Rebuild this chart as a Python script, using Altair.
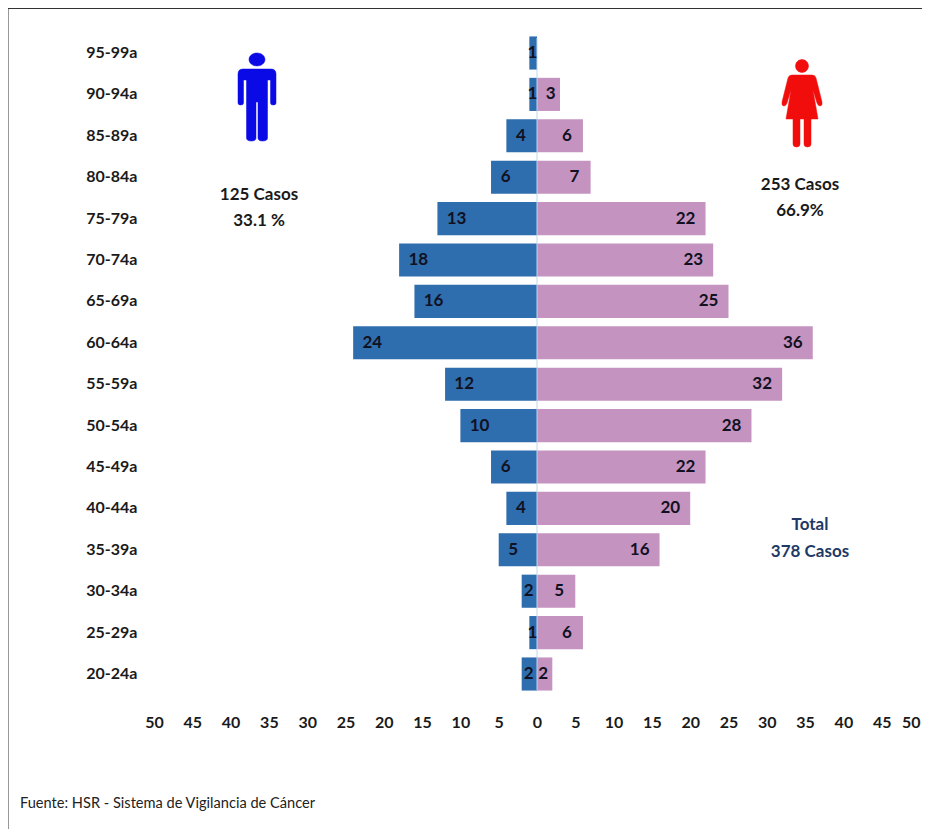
import altair as alt
import pandas as pd

ages = ["95-99a","90-94a","85-89a","80-84a","75-79a","70-74a","65-69a","60-64a",
        "55-59a","50-54a","45-49a","40-44a","35-39a","30-34a","25-29a","20-24a"]
male = [1,1,4,6,13,18,16,24,12,10,6,4,5,2,1,2]
female = [0,3,6,7,22,23,25,36,32,28,22,20,16,5,6,2]
ticks = [-50,-45,-40,-35,-30,-25,-20,-15,-10,-5,0,5,10,15,20,25,30,35,40,45,50]

BLUE = "#2E6DAE"
PINK = "#C493C0"
FONT = "Lato"
TXT = "#1a1a1a"
NAVY = "#1F3A66"

MAN = ("M-8,-37.5 A8,6.5 0 1 1 8,-37.5 A8,6.5 0 1 1 -8,-37.5 Z "
       "M-14,-28 L14,-28 Q19,-28 19,-23 L19,6 Q19,8 16,8 Q13.5,8 13.5,6 L13.5,-17 L10.5,-17 L10.5,41 "
       "Q10.5,44 5.5,44 Q1,44 1,41 L1,5 L-1,5 L-1,41 Q-1,44 -5.5,44 Q-10.5,44 -10.5,41 L-10.5,-17 L-13.5,-17 "
       "L-13.5,6 Q-13.5,8 -16,8 Q-19,8 -19,6 L-19,-23 Q-19,-28 -14,-28 Z")
WOMAN = ("M-6.5,-37 A6.5,6.5 0 1 1 6.5,-37 A6.5,6.5 0 1 1 -6.5,-37 Z "
         "M-10,-28 L10,-28 Q13,-28 14,-25 L20,-1 Q20.5,3 18,3 Q16,3 15,0 L11,-13 L16,16 L9,16 "
         "L9,41 Q9,44 5.5,44 Q2,44 2,41 L2,16 L-2,16 L-2,41 Q-2,44 -5.5,44 Q-9,44 -9,41 L-9,16 "
         "L-16,16 L-11,-13 L-15,0 Q-16,3 -18,3 Q-20.5,3 -20,-1 L-14,-25 Q-13,-28 -10,-28 Z")

def male_pos(v):
    return -v + (2.5 if v >= 10 else 1.9 if v >= 4 else 0.9 if v == 2 else 0.4)

def female_pos(v):
    return v - (2.6 if v >= 10 else 2.1 if v >= 5 else 1.2)

rows = []
for a, m, f in zip(ages, male, female):
    rows.append(dict(age=a, side="m", val=-m, lab=male_pos(m), txt=str(m)))
    if f:
        rows.append(dict(age=a, side="f", val=f, lab=female_pos(f), txt=str(f)))
df = pd.DataFrame(rows)

W, H = 914, 821
X0 = 529.0
PX = 7.66
xscale = alt.Scale(domain=[-X0 / PX, (W - X0) / PX], range=[0, W], nice=False, zero=False)
yscale = alt.Scale(domain=ages, range=[24.3, 686.7], paddingInner=0.2, paddingOuter=0.1)

xenc = alt.X("val:Q", scale=xscale, title=None,
             axis=alt.Axis(values=ticks, labelExpr="abs(datum.value)", grid=False, domain=False,
                           ticks=False, offset=-115, labelPadding=0, labelFont=FONT, labelFontSize=16,
                           labelFontWeight="bold", labelColor=TXT, labelOverlap=False,
                           labelFlush=False, labelBound=False,
                           labelAlign=alt.ExprRef("datum.value == 50 ? 'right' : 'center'")))
yenc = alt.Y("age:N", scale=yscale, sort=ages, title=None,
             axis=alt.Axis(orient="left", domain=False, ticks=False, offset=-129, labelPadding=0,
                           labelFont=FONT, labelFontSize=16, labelFontWeight="bold", labelColor=TXT,
                           labelOverlap=False))

bars = alt.Chart(df).mark_bar(clip=False).encode(
    x=xenc, x2=alt.datum(0), y=yenc,
    color=alt.Color("side:N", scale=alt.Scale(domain=["m", "f"], range=[BLUE, PINK]), legend=None),
)
labels = alt.Chart(df).mark_text(font=FONT, fontSize=17, fontWeight="bold", color="#111122",
                                 align="center", baseline="middle").encode(
    x=alt.X("lab:Q", scale=xscale), y=alt.Y("age:N", scale=yscale, sort=ages), text="txt:N")

zero = alt.Chart(pd.DataFrame({"v": [0]})).mark_rule(color="#BFD7EA", strokeWidth=1).encode(
    x=alt.X("v:Q", scale=xscale), y=alt.value(30), y2=alt.value(682))

def icon(path, colour, px, py):
    return alt.Chart(pd.DataFrame({"v": [0]})).mark_point(
        shape=path, size=4, filled=True, fill=colour, stroke=colour, strokeWidth=0.5,
        strokeJoin="round", opacity=1).encode(x=alt.value(px), y=alt.value(py))

def note(text, px, py, colour=TXT, size=17, weight="bold", align="center"):
    return alt.Chart(pd.DataFrame({"t": [text]})).mark_text(
        font=FONT, fontSize=size, fontWeight=weight, color=colour, align=align, baseline="middle"
    ).encode(x=alt.value(px), y=alt.value(py), text="t:N")

frame_left = alt.Chart(pd.DataFrame({"v": [0]})).mark_rule(color="#333333", strokeWidth=1).encode(
    x=alt.value(0), y=alt.value(0), y2=alt.value(H))
frame_top = alt.Chart(pd.DataFrame({"v": [0]})).mark_rule(color="#333333", strokeWidth=1).encode(
    y=alt.value(0.5), x=alt.value(0), x2=alt.value(W))

chart = alt.layer(
    frame_left, frame_top, bars, zero, labels,
    icon(MAN, "#0A0AE6", 249, 89),
    icon(WOMAN, "#F20D0D", 794, 95),
    note("125 Casos", 251, 187), note("33.1 %", 251, 213),
    note("253 Casos", 792, 177), note("66.9%", 792, 203),
    note("Total", 802, 517, NAVY), note("378 Casos", 802, 544, NAVY),
    note("Fuente: HSR - Sistema de Vigilancia de Cáncer", 12, 796, "#222222", 14.6, "normal", "left"),
).resolve_scale(color="independent").properties(
    width=W, height=H, padding=0, autosize=alt.AutoSizeParams(type="none"), background="white"
).configure_view(stroke=None)

chart.save("out.html", embed_options={"renderer": "svg", "actions": False})
